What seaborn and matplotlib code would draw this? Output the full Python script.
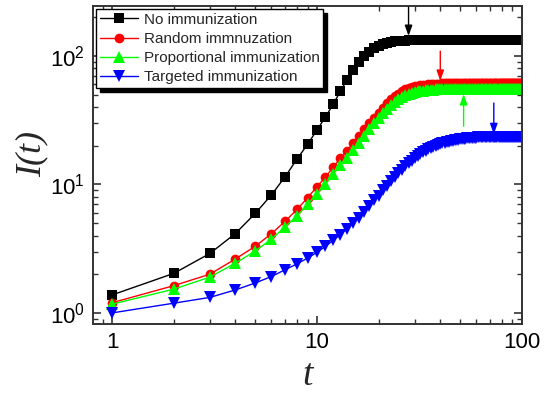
import numpy as np
import pandas as pd
import matplotlib
matplotlib.use("Agg")
import matplotlib.pyplot as plt
import seaborn as sns

t = list(range(1, 101))

no_imm = [1.38, 2.03, 2.90, 4.15, 5.95, 8.30, 11.5, 15.8, 20.5, 26.5,
          33.5, 42.0, 53.0, 65.0, 78.0, 90.0, 100.0, 108.0, 115.0, 120.0,
          124.0, 127.0, 129.0, 130.0, 131.0, 131.5, 131.8, 132.0, 132.0, 132.0,
          132.0, 132.0, 132.0, 132.0, 132.0, 132.0, 132.0, 132.0, 132.0, 132.0,
          132.0, 132.0, 132.0, 132.0, 132.0, 132.0, 132.0, 132.0, 132.0, 132.0,
          132.0, 132.0, 132.0, 132.0, 132.0, 132.0, 132.0, 132.0, 132.0, 132.0,
          132.0, 132.0, 132.0, 132.0, 132.0, 132.0, 132.0, 132.0, 132.0, 132.0,
          132.0, 132.0, 132.0, 132.0, 132.0, 132.0, 132.0, 132.0, 132.0, 132.0,
          132.0, 132.0, 132.0, 132.0, 132.0, 132.0, 132.0, 132.0, 132.0, 132.0,
          132.0, 132.0, 132.0, 132.0, 132.0, 132.0, 132.0, 132.0, 132.0, 132.0]

random_imm = [1.20, 1.63, 2.00, 2.63, 3.30, 4.14, 5.17, 6.40, 7.87, 9.60,
              11.4, 13.6, 16.0, 18.2, 21.0, 24.0, 27.0, 30.0, 33.0, 36.0,
              39.5, 43.0, 46.0, 48.5, 51.0, 53.0, 55.0, 56.3, 57.3, 58.0,
              58.6, 59.1, 59.5, 59.8, 60.1, 60.3, 60.5, 60.7, 60.8, 61.0,
              61.1, 61.2, 61.2, 61.3, 61.3, 61.4, 61.4, 61.4, 61.5, 61.5,
              61.5, 61.5, 61.5, 61.5, 61.5, 61.5, 61.5, 61.5, 61.5, 61.5,
              61.5, 61.5, 61.5, 61.5, 61.5, 61.5, 61.5, 61.5, 61.5, 61.5,
              61.5, 61.5, 61.5, 61.5, 61.5, 61.5, 61.5, 61.5, 61.5, 61.5,
              61.5, 61.5, 61.5, 61.5, 61.5, 61.5, 61.5, 61.5, 61.5, 61.5,
              61.5, 61.5, 61.5, 61.5, 61.5, 61.5, 61.5, 61.5, 61.5, 61.5]

prop_imm = [1.17, 1.53, 1.90, 2.44, 3.03, 3.76, 4.68, 5.70, 7.00, 8.46,
            10.05, 12.0, 14.1, 16.2, 18.5, 21.0, 24.0, 27.0, 30.0, 33.0,
            36.0, 39.0, 41.5, 44.0, 46.0, 47.8, 49.3, 50.5, 51.5, 52.3,
            52.9, 53.4, 53.8, 54.1, 54.4, 54.6, 54.8, 55.0, 55.1, 55.2,
            55.3, 55.3, 55.4, 55.4, 55.4, 55.5, 55.5, 55.5, 55.5, 55.5,
            55.5, 55.5, 55.5, 55.5, 55.5, 55.5, 55.5, 55.5, 55.5, 55.5,
            55.5, 55.5, 55.5, 55.5, 55.5, 55.5, 55.5, 55.5, 55.5, 55.5,
            55.5, 55.5, 55.5, 55.5, 55.5, 55.5, 55.5, 55.5, 55.5, 55.5,
            55.5, 55.5, 55.5, 55.5, 55.5, 55.5, 55.5, 55.5, 55.5, 55.5,
            55.5, 55.5, 55.5, 55.5, 55.5, 55.5, 55.5, 55.5, 55.5, 55.5]

targ_imm = [1.00, 1.19, 1.32, 1.51, 1.71, 1.92, 2.17, 2.41, 2.67, 2.96,
            3.30, 3.67, 4.07, 4.53, 5.00, 5.50, 6.10, 6.80, 7.50, 8.20,
            9.00, 9.80, 10.6, 11.4, 12.2, 13.0, 13.8, 14.6, 15.3, 16.0,
            16.6, 17.2, 17.8, 18.3, 18.8, 19.2, 19.6, 20.0, 20.3, 20.6,
            20.9, 21.1, 21.3, 21.5, 21.7, 21.9, 22.0, 22.2, 22.3, 22.4,
            22.5, 22.6, 22.7, 22.8, 22.8, 22.9, 23.0, 23.0, 23.1, 23.1,
            23.2, 23.2, 23.2, 23.3, 23.3, 23.3, 23.4, 23.4, 23.4, 23.4,
            23.5, 23.5, 23.5, 23.5, 23.5, 23.5, 23.5, 23.5, 23.5, 23.5,
            23.5, 23.5, 23.5, 23.5, 23.5, 23.5, 23.5, 23.5, 23.5, 23.5,
            23.5, 23.5, 23.5, 23.5, 23.5, 23.5, 23.5, 23.5, 23.5, 23.5]

labels = ["No immunization", "Random immnuzation",
          "Proportional immunization", "Targeted immunization"]
series = [no_imm, random_imm, prop_imm, targ_imm]
colors = ["#000000", "#ff0000", "#00ff00", "#0000ff"]
markers = ["s", "o", "^", "v"]

# arrows: (t, tail value, head value)
arrow_t = [28, 40, 52, 73]
arrow_tail = [240, 109, 28.4, 43]
arrow_head = [143, 64, 50.5, 24.6]

sns.set_style("ticks")
plt.rcParams["font.family"] = ["Liberation Sans", "DejaVu Sans"]
plt.rcParams["mathtext.fontset"] = "custom"
plt.rcParams["mathtext.rm"] = "Liberation Sans"

fig = plt.figure(figsize=(5.51, 3.98), dpi=100)
ax = fig.add_axes([0.169, 0.186, 0.778, 0.799])

for lab, vals, c, m in zip(labels, series, colors, markers):
    df = pd.DataFrame({"t": t, "I": vals})
    sns.lineplot(data=df, x="t", y="I", ax=ax, color=c, marker=m,
                 markersize=8 if m in "^v" else 7, markeredgewidth=0,
                 linewidth=1.0, label=lab)

ax.set_xscale("log")
ax.set_yscale("log")
ax.set_xlim(0.808, 100)
ax.set_ylim(0.82, 245)

for at, tail, head, c in zip(arrow_t, arrow_tail, arrow_head, colors):
    ax.annotate("", xy=(at, head), xytext=(at, tail),
                arrowprops=dict(arrowstyle="-|>,head_width=0.25,head_length=0.7",
                                color=c, lw=1.0,
                                mutation_scale=9, shrinkA=0, shrinkB=0))

for s in ax.spines.values():
    s.set_linewidth(1.4)
    s.set_color("#333333")
ax.tick_params(which="both", direction="in", top=True, right=True,
               colors="#333333", labelcolor="black")
ax.tick_params(which="major", length=6, width=1.2, labelsize=16, pad=6)
ax.tick_params(which="minor", length=3.5, width=1.0)

ax.set_xticks([1, 10, 100])
ax.set_xticklabels(["1", "10", "100"])
ax.set_xlabel("t", fontsize=27, family="Liberation Serif", style="italic",
              labelpad=4)
ax.set_ylabel("I(t)", fontsize=26, family="Liberation Serif", style="italic")
ax.yaxis.set_label_coords(-0.105, 0.535)

leg = ax.legend(loc="upper left", fontsize=11, frameon=True, fancybox=False,
                framealpha=1, edgecolor="black", borderaxespad=0.2,
                handlelength=2.5, handletextpad=0.35, labelspacing=0.33,
                borderpad=0.25,
                shadow={"ox": 3, "oy": -3, "color": "black", "alpha": 1})
leg.get_frame().set_linewidth(1.0)

fig.savefig("out.png", dpi=100)
